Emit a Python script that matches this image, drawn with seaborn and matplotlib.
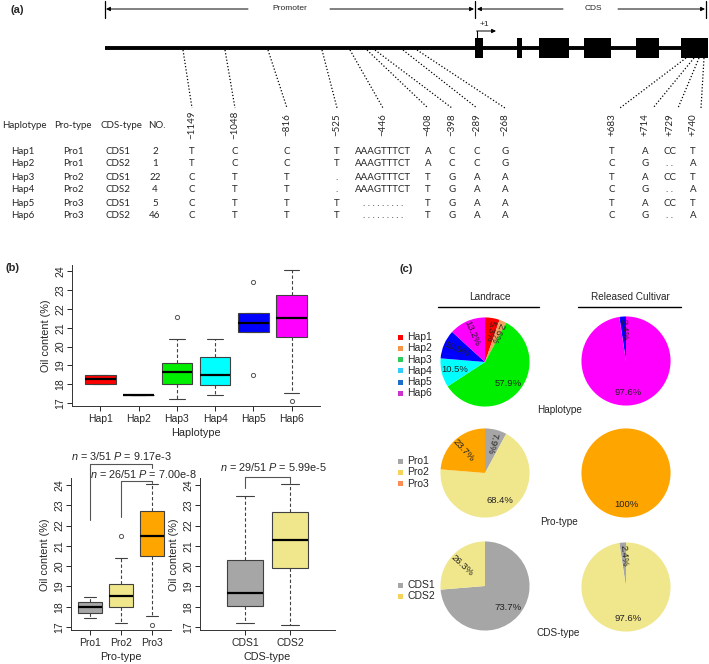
import numpy as np
import pandas as pd
import matplotlib
matplotlib.use("Agg")
import matplotlib.pyplot as plt
from matplotlib.patches import Rectangle
import seaborn as sns

# ------------------------------------------------------------------ data
haplotypes = ["Hap1", "Hap2", "Hap3", "Hap4", "Hap5", "Hap6"]
hap_pro = ["Pro1", "Pro1", "Pro2", "Pro2", "Pro3", "Pro3"]
hap_cds = ["CDS1", "CDS2", "CDS1", "CDS2", "CDS1", "CDS2"]
hap_no = [2, 1, 22, 4, 5, 46]
pro_types = ["Pro1", "Pro2", "Pro3"]
cds_types = ["CDS1", "CDS2"]

snp_labels = ["\u22121149", "\u22121048", "\u2212816", "\u2212525", "\u2212446",
              "\u2212408", "\u2212398", "\u2212289", "\u2212268",
              "+683", "+714", "+729", "+740"]
snp_alleles = [
    ["T", "C", "C", "T", "AAAGTTTCT", "A", "C", "C", "G", "T", "A", "CC", "T"],
    ["T", "C", "C", "T", "AAAGTTTCT", "A", "C", "C", "G", "C", "G", ". .", "A"],
    ["C", "T", "T", ".", "AAAGTTTCT", "T", "G", "A", "A", "T", "A", "CC", "T"],
    ["C", "T", "T", ".", "AAAGTTTCT", "T", "G", "A", "A", "C", "G", ". .", "A"],
    ["C", "T", "T", "T", ". . . . . . . . .", "T", "G", "A", "A", "T", "A", "CC", "T"],
    ["C", "T", "T", "T", ". . . . . . . . .", "T", "G", "A", "A", "C", "G", ". .", "A"],
]

# oil content (%) values
oil_hap = {
    "Hap1": [18.0, 18.0, 18.25, 18.5, 18.5],
    "Hap2": [17.45],
    "Hap3": [17.2, 17.6, 18.0, 18.3, 18.65, 18.9, 19.15, 20.4, 21.55],
    "Hap4": [17.45, 17.95, 18.5, 19.45, 20.4],
    "Hap5": [18.5, 20.75, 20.75, 21.0, 21.25, 21.5, 21.8, 21.8, 23.45],
    "Hap6": [17.1, 17.55, 20.5, 21.0, 21.5, 22.0, 22.75, 23.5, 24.05],
}
oil_pro = {
    "Pro1": [17.45, 17.6, 17.7, 17.85, 18.0, 18.1, 18.25, 18.4, 18.5],
    "Pro2": [17.2, 17.6, 18.0, 18.3, 18.55, 18.8, 19.1, 20.4, 21.5],
    "Pro3": [17.1, 17.55, 20.5, 21.0, 21.5, 22.0, 22.7, 23.5, 24.05],
}
oil_cds = {
    "CDS1": [17.2, 17.6, 18.05, 18.3, 18.65, 19.5, 20.3, 22.0, 23.45],
    "CDS2": [17.1, 18.5, 19.9, 20.6, 21.3, 22.0, 22.65, 23.4, 24.05],
}
pro_tests = [("Pro1", "Pro3", "3/51", "9.17e-3"), ("Pro2", "Pro3", "26/51", "7.00e-8")]
cds_test = ("CDS1", "CDS2", "29/51", "5.99e-5")

land_hap_pct = [5.3, 2.6, 57.9, 10.5, 10.5, 13.2]
rel_hap_labels = ["Hap5", "Hap6"]
rel_hap_pct = [2.4, 97.6]
land_pro_pct = [7.9, 68.4, 23.7]
rel_pro_labels = ["Pro3"]
rel_pro_pct = [100]
land_cds_pct = [73.7, 26.3]
rel_cds_labels = ["CDS1", "CDS2"]
rel_cds_pct = [2.4, 97.6]

# ------------------------------------------------------------------ style
hap_colors = {"Hap1": "#FF0000", "Hap2": "#F4A460", "Hap3": "#00EE00",
              "Hap4": "#00FFFF", "Hap5": "#0000FF", "Hap6": "#FF00FF"}
pro_colors = {"Pro1": "#A6A6A6", "Pro2": "#F0E68C", "Pro3": "#FFA500"}
cds_colors = {"CDS1": "#A6A6A6", "CDS2": "#F0E68C"}
hap_leg_colors = ["#FF0000", "#F79646", "#2ECC5A", "#33CCFF", "#1E6EC8", "#CC33CC"]
pro_leg_colors = ["#A6A6A6", "#F5D25A", "#FF8C55"]
cds_leg_colors = ["#A6A6A6", "#F5D25A"]

sns.set_style("ticks")
plt.rcParams["font.family"] = ["Liberation Sans", "DejaVu Sans"]
plt.rcParams["mathtext.fontset"] = "custom"
plt.rcParams["mathtext.it"] = "Liberation Sans:italic"
plt.rcParams["mathtext.rm"] = "Liberation Sans"

W, H = 709, 664
fig = plt.figure(figsize=(W / 100, H / 100), dpi=100)


def rect(x0, y0, x1, y1):
    return [x0 / W, 1 - y1 / H, (x1 - x0) / W, (y1 - y0) / H]


ov = fig.add_axes([0, 0, 1, 1])
ov.set_xlim(0, W)
ov.set_ylim(H, 0)
ov.axis("off")

# ------------------------------------------------------------------ panel (a)
ov.text(17, 10, "(a)", fontsize=8, fontweight="bold", ha="center", va="center")
arrow = dict(arrowstyle="-|>", color="black", lw=0.7, mutation_scale=6, shrinkA=0, shrinkB=0)
for x in (105, 475, 706):
    ov.plot([x, x], [1, 18], color="black", lw=0.9)
ov.annotate("", xy=(106, 9), xytext=(248, 9), arrowprops=arrow)
ov.annotate("", xy=(474, 9), xytext=(330, 9), arrowprops=arrow)
ov.annotate("", xy=(477, 9), xytext=(563, 9), arrowprops=arrow)
ov.annotate("", xy=(705, 9), xytext=(618, 9), arrowprops=arrow)
ov.text(290, 9, "Promoter", fontsize=6, ha="center", va="center")
ov.text(593, 9, "CDS", fontsize=6, ha="center", va="center")

ov.plot([105, 708], [48, 48], color="black", lw=2.8, solid_capstyle="butt")
for x0, x1 in [(475, 483), (517, 522), (539, 569), (584, 611), (636, 659), (681, 708)]:
    ov.add_patch(Rectangle((x0, 38), x1 - x0, 20, color="black", lw=0))
ov.plot([477, 477], [38, 31], color="black", lw=0.8)
ov.annotate("", xy=(496, 31), xytext=(476.6, 31), arrowprops=arrow)
ov.text(484, 24, "+1", fontsize=6, ha="center", va="center")

snp_x = [192, 235, 287, 337, 383, 428, 452, 477, 505, 612, 645, 670, 693]
snp_start = [183, 225, 268, 322, 350, 367, 375, 403, 417, 686, 694, 699, 704]
for i, (xs, xe) in enumerate(zip(snp_start, snp_x)):
    ys = 50 if i < 9 else 58
    xe2 = xe if i < 9 else xe + 8
    ov.plot([xs, xe2], [ys, 108], color="black", lw=0.9, linestyle=(0, (1, 1.6)))

tfont = dict(fontfamily=["Lato", "DejaVu Sans"], fontsize=7, ha="center", va="center")
for lab, x in zip(["Haplotype", "Pro-type", "CDS-type", "NO."], [24, 73, 121, 157]):
    ov.text(x, 125, lab, **tfont)
for lab, x in zip(snp_labels, snp_x):
    ov.text(x, 125, lab, rotation=90, **tfont)
row_y = [152, 164, 177, 190, 203, 216]
for r, y in enumerate(row_y):
    ov.text(23, y, haplotypes[r], **tfont)
    ov.text(73, y, hap_pro[r], **tfont)
    ov.text(118, y, hap_cds[r], **tfont)
    ov.text(155, y, str(hap_no[r]), **tfont)
    for a, x in zip(snp_alleles[r], snp_x):
        ov.text(x, y, a, **tfont)

# ------------------------------------------------------------------ panel (b)
ov.text(12, 268, "(b)", fontsize=8, fontweight="bold", ha="center", va="center")
YLIM = (16.84, 24.33)


def box_panel(ax, groups, values, palette, xlim, xlabel):
    df = pd.DataFrame([(g, v) for g in groups for v in values[g]], columns=["grp", "oil"])
    sns.boxplot(data=df, x="grp", y="oil", order=groups, hue="grp", hue_order=groups,
                palette=palette, legend=False, width=0.8, saturation=1, whis=1.5,
                linecolor="#404040", linewidth=0.8, fliersize=3,
                flierprops=dict(marker="o", markerfacecolor="none",
                                markeredgecolor="#555555", markeredgewidth=0.7),
                whiskerprops=dict(linestyle=(0, (3, 2))),
                medianprops=dict(color="black", linewidth=1.6),
                ax=ax)
    ax.set_xlim(*xlim)
    ax.set_ylim(*YLIM)
    ax.set_yticks(range(17, 25))
    ax.tick_params(axis="y", labelrotation=90, labelsize=7.5, length=3.5, width=0.7, pad=1.5)
    ax.tick_params(axis="x", labelsize=7.5, length=3.5, width=0.7, pad=2)
    for t in ax.get_yticklabels():
        t.set_va("center")
    sns.despine(ax=ax)
    for s in ("left", "bottom"):
        ax.spines[s].set_linewidth(0.7)
        ax.spines[s].set_color("#333333")
    ax.set_xlabel(xlabel, fontsize=7.8, labelpad=3)
    ax.set_ylabel("Oil content (%)", fontsize=7.8, labelpad=3)


ax_h = fig.add_axes(rect(72, 265, 320, 406))
box_panel(ax_h, haplotypes, oil_hap, hap_colors, (-0.74, 5.74), "Haplotype")

ax_p = fig.add_axes(rect(71, 478.3, 171, 630.2))
box_panel(ax_p, pro_types, oil_pro, pro_colors, (-0.62, 2.62), "Pro-type")

ax_c = fig.add_axes(rect(200, 478.3, 335, 630.2))
box_panel(ax_c, cds_types, oil_cds, cds_colors, (-1.0, 2.0), "CDS-type")

bk = dict(color="#555555", lw=0.8, clip_on=False)
stxt = dict(fontsize=7.8, ha="center", va="bottom", clip_on=False)
# Pro-type brackets
g = pro_types
a, b, n, p = pro_tests[0]
ax_p.plot([g.index(a), g.index(a), g.index(b), g.index(b)], [22.28, 25.03, 25.03, 24.86], **bk)
ax_p.text(1.0, 25.12, f"$n$ = {n} $P$ = {p}", **stxt)
a, b, n, p = pro_tests[1]
ax_p.plot([g.index(a), g.index(a), g.index(b), g.index(b)], [22.4, 24.2, 24.2, 24.1], **bk)
ax_p.text(1.71, 24.26, f"$n$ = {n} $P$ = {p}", **stxt)
a, b, n, p = cds_test
ax_c.plot([0, 0, 1, 1], [23.85, 24.4, 24.4, 24.1], **bk)
ax_c.text(0.62, 24.6, f"$n$ = {n} $P$ = {p}", **stxt)

# ------------------------------------------------------------------ panel (c)
ov.text(406, 269, "(c)", fontsize=8, fontweight="bold", ha="center", va="center")
ov.text(490, 297, "Landrace", fontsize=7.2, ha="center", va="center")
ov.plot([438, 539], [307, 307], color="black", lw=1)
ov.text(630, 297, "Released Cultivar", fontsize=7.2, ha="center", va="center")
ov.plot([578, 681], [307, 307], color="black", lw=1)
ov.text(560, 410, "Haplotype", fontsize=7.2, ha="center", va="center")
ov.text(559, 522, "Pro-type", fontsize=7.2, ha="center", va="center")
ov.text(558, 633, "CDS-type", fontsize=7.2, ha="center", va="center")

R = 45


def pct_fmt(pv):
    return "100%" if pv > 99.95 else f"{pv:.1f}%"


def pie(cx, cy, vals, colors, rot, counterclock):
    ax = fig.add_axes(rect(cx - R, cy - R, cx + R, cy + R))
    wedges, _, autot = ax.pie(vals, colors=colors, startangle=90, counterclock=counterclock,
                              autopct=pct_fmt, pctdistance=0.7,
                              wedgeprops=dict(linewidth=0),
                              textprops=dict(fontsize=6.8, color="#222222"))
    for w, t, r in zip(wedges, autot, rot):
        if r:
            mid = (w.theta1 + w.theta2) / 2
            t.set_rotation(mid - 180)
            t.set_rotation_mode("anchor")
            t.set_va("center")
    ax.set_xlim(-1.01, 1.01)
    ax.set_ylim(-1.01, 1.01)
    return ax


pie(485, 362, land_hap_pct, [hap_colors[h] for h in haplotypes],
    [True, True, False, False, True, True], False)
pie(626, 361, rel_hap_pct, [hap_colors[h] for h in rel_hap_labels], [True, False], True)
pie(485, 473, land_pro_pct, [pro_colors[h] for h in pro_types], [True, False, True], False)
pie(626, 473, rel_pro_pct, [pro_colors[h] for h in rel_pro_labels], [False], True)
pie(485, 586, land_cds_pct, [cds_colors[h] for h in cds_types], [False, True], False)
pie(626, 587, rel_cds_pct, [cds_colors[h] for h in rel_cds_labels], [True, False], True)


def legend(labels, colors, y0):
    for i, (lab, c) in enumerate(zip(labels, colors)):
        y = y0 + i * 11.3
        ov.add_patch(Rectangle((397.5, y - 2.5), 5, 5, color=c, lw=0))
        ov.text(407, y, lab, fontsize=7.5, ha="left", va="center")


legend(haplotypes, hap_leg_colors, 337)
legend(pro_types, pro_leg_colors, 461)
legend(cds_types, cds_leg_colors, 585)

fig.savefig("out.png", dpi=100)
